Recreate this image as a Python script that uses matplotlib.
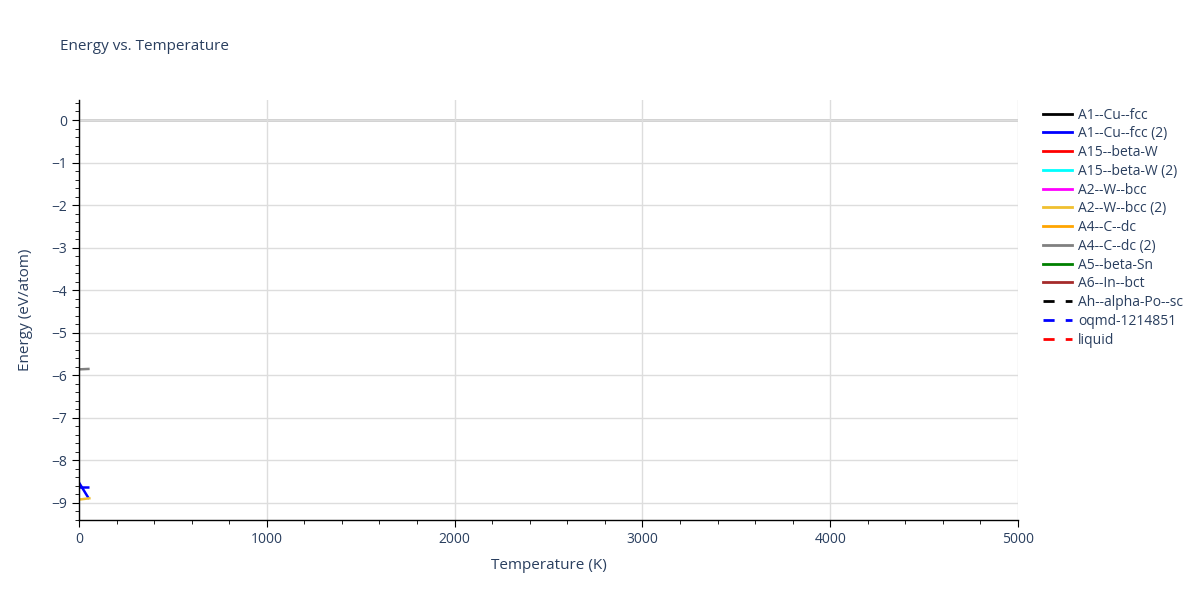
import matplotlib.pyplot as plt
from matplotlib.lines import Line2D
from matplotlib.ticker import MultipleLocator

# series (temperature in K, energy in eV/atom)
names = ["A1--Cu--fcc", "A1--Cu--fcc (2)", "A15--beta-W", "A15--beta-W (2)",
         "A2--W--bcc", "A2--W--bcc (2)", "A4--C--dc", "A4--C--dc (2)",
         "A5--beta-Sn", "A6--In--bct", "Ah--alpha-Po--sc", "oqmd-1214851", "liquid"]
colors = ["black", "blue", "red", "cyan", "magenta", "#f0c030", "orange", "gray",
          "green", "brown", "black", "blue", "red"]
dashed = [False] * 10 + [True] * 3

temp_cu2 = [0, 50]
energy_cu2 = [-8.52, -8.88]
temp_oqmd = [0, 55]
energy_oqmd = [-8.62, -8.62]
temp_w2 = [0, 55]
energy_w2 = [-8.92, -8.89]
temp_c2 = [0, 50]
energy_c2 = [-5.86, -5.85]

text_col = "#2a3f5f"
plt.rcParams["font.family"] = ["Open Sans", "DejaVu Sans"]

fig = plt.figure(figsize=(12, 6), dpi=100)
ax = fig.add_axes([79 / 1200, 80 / 600, 939 / 1200, 420 / 600])

ax.plot(temp_c2, energy_c2, color=colors[7], lw=1.8)
ax.plot(temp_oqmd, energy_oqmd, color=colors[11], lw=1.8, dashes=(5, 3))
ax.plot(temp_cu2, energy_cu2, color=colors[1], lw=1.8)
ax.plot(temp_w2, energy_w2, color=colors[5], lw=1.8)

ax.set_xlim(0, 5000)
ax.set_ylim(-9.4, 0.47)
ax.xaxis.set_major_locator(MultipleLocator(1000))
ax.xaxis.set_minor_locator(MultipleLocator(200))
ax.yaxis.set_major_locator(MultipleLocator(1))
ax.yaxis.set_minor_locator(MultipleLocator(0.2))
ax.grid(True, which="major", color="#dddddd", lw=1)
ax.axhline(0, color="#cccccc", lw=2, zorder=0.5)
ax.set_axisbelow(True)
for side in ["top", "right"]:
    ax.spines[side].set_visible(False)
for side in ["left", "bottom"]:
    ax.spines[side].set_color("black")
    ax.spines[side].set_linewidth(1)
ax.tick_params(which="both", direction="out", colors="black", labelcolor=text_col, labelsize=10)
ax.tick_params(which="major", length=5)
ax.tick_params(which="minor", length=3)
ax.set_yticks(range(-9, 1))
ax.set_yticklabels(["\u22129", "\u22128", "\u22127", "\u22126", "\u22125", "\u22124",
                    "\u22123", "\u22122", "\u22121", "0"])

ax.set_xlabel("Temperature (K)", color=text_col, fontsize=11, labelpad=8)
ax.set_ylabel("Energy (eV/atom)", color=text_col, fontsize=11, labelpad=13)
fig.text(60 / 1200, 1 - 46 / 600, "Energy vs. Temperature", color=text_col,
         fontsize=11, va="center")

handles = [Line2D([], [], color=c, lw=2, dashes=(4, 4) if d else (None, None))
           for c, d in zip(colors, dashed)]
leg = fig.legend(handles, names, loc="upper left", bbox_to_anchor=(1037 / 1200, 1 - 102 / 600),
                 frameon=False, fontsize=10, labelcolor=text_col, handlelength=2.1,
                 handletextpad=0.45, labelspacing=0.27, borderaxespad=0)

fig.savefig("out.png", dpi=100)
